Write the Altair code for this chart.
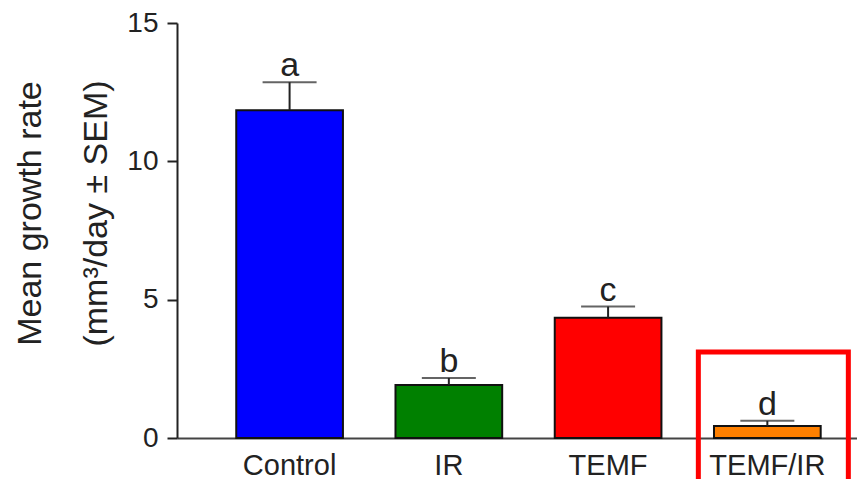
import altair as alt
import pandas as pd

groups = ["Control", "IR", "TEMF", "TEMF/IR"]
means = [11.85, 1.92, 4.35, 0.43]
sem_top = [12.86, 2.17, 4.75, 0.62]
letters = ["a", "b", "c", "d"]
colors = ["#0000FF", "#008000", "#FF0000", "#FF8000"]

highlight_group = ["TEMF/IR"]
highlight_top = [3.11]
highlight_bottom = [-3.0]

df = pd.DataFrame({"group": groups, "mean": means, "top": sem_top,
                   "letter": letters, "color": colors})
hl = pd.DataFrame({"group": highlight_group, "top": highlight_top,
                   "bottom": highlight_bottom})

FONT = "Liberation Sans"

x = alt.X("group:N", sort=groups,
          scale=alt.Scale(paddingInner=0.33, paddingOuter=0.3, align=0.62),
          axis=alt.Axis(title=None, ticks=False, labelAngle=0, labelFontSize=29,
                        labelPadding=13, labelColor="#222", labelFont=FONT,
                        domainColor="#444", domainWidth=2))
y = alt.Y("mean:Q", scale=alt.Scale(domain=[0, 15], padding=0, nice=False, zero=True),
          axis=alt.Axis(values=[0, 5, 10, 15], grid=False, tickSize=10, tickWidth=2,
                        tickColor="#222", domainColor="#222", domainWidth=2,
                        labelFontSize=28, labelFont=FONT, labelColor="#222",
                        labelPadding=9,
                        title=["Mean growth rate", "(mm³/day ± SEM)"],
                        titleFontSize=34, titleFont=FONT, titleFontWeight="normal",
                        titleColor="#222", titleLineHeight=66,
                        titleAngle=270, titleX=-147, titleY=190,
                        titleAlign="center", titleBaseline="middle"))

base = alt.Chart(df)

bars = base.mark_bar(stroke="#111", strokeWidth=2).encode(
    x=x, y=y, color=alt.Color("color:N", scale=None))

stems = base.mark_rule(color="#222", strokeWidth=2).encode(
    x=alt.X("group:N", sort=groups), y="mean:Q", y2="top:Q")

caps = base.mark_tick(color="#222", thickness=2, size=54, orient="horizontal").encode(
    x=alt.X("group:N", sort=groups), y="top:Q")

texts = base.mark_text(fontSize=34, font=FONT, color="#222", baseline="alphabetic",
                       dy=-6).encode(
    x=alt.X("group:N", sort=groups), y="top:Q", text="letter:N")

box = alt.Chart(hl).mark_bar(filled=False, stroke="#FF0000", strokeWidth=5,
                              width=150, xOffset=6).encode(
    x=alt.X("group:N", sort=groups), y="top:Q", y2="bottom:Q")

chart = alt.layer(bars, stems, caps, texts, box).properties(
    width=680, height=415,
    autosize=alt.AutoSizeParams(type="none"),
    padding={"left": 169, "top": 15, "right": 0, "bottom": 41},
).configure_view(stroke=None)

chart.save("out.html", embed_options={"renderer": "svg", "actions": False})
